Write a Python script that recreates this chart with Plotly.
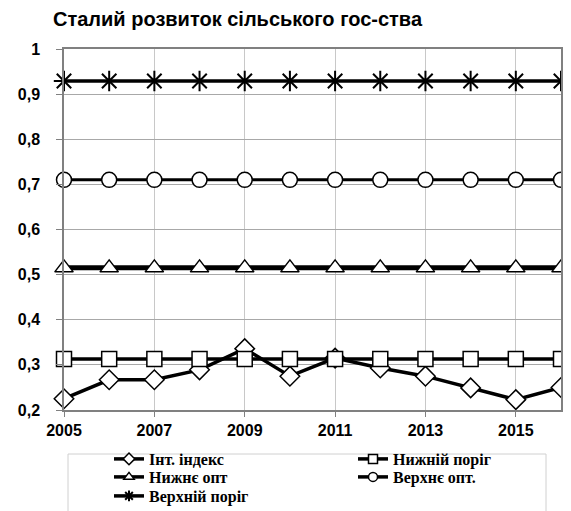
import plotly.graph_objects as go

years = list(range(2005, 2017))
int_index = [0.225, 0.267, 0.267, 0.289, 0.336, 0.275, 0.315, 0.293, 0.275, 0.249, 0.223, 0.250]
lower_threshold = [0.313] * 12
lower_opt = [0.515] * 12
upper_opt = [0.710] * 12
upper_threshold = [0.929] * 12

names = ["Інт. індекс", "Нижній поріг", "Нижнє опт", "Верхнє опт.", "Верхній поріг"]
series = [int_index, lower_threshold, lower_opt, upper_opt, upper_threshold]
symbols = ["diamond", "square", "triangle-up", "circle", "asterisk-open"]
sizes = [15, 15, 16, 15, 17]
lwidths = [3.5, 3.5, 5, 3, 3.5]
legend_ids = ["legend", "legend2", "legend3", "legend4", "legend5"]
# legend entry anchor (pixels): text column x, row centre y
legend_pos = [(148, 460), (392, 460), (148, 478), (392, 478), (148, 497)]

fig = go.Figure()
for nm, ys, sym, sz, lw in zip(names, series, symbols, sizes, lwidths):
    is_star = sym == "asterisk-open"
    fig.add_trace(go.Scatter(
        x=years, y=ys, name=nm, mode="lines+markers", showlegend=False,
        line=dict(color="black", width=lw),
        marker=dict(symbol=sym, size=sz, color="black" if is_star else "white",
                    line=dict(color="black", width=2 if is_star else 1.5)),
        cliponaxis=False,
    ))

for nm, sym, lg in zip(names, symbols, legend_ids):
    is_star = sym == "asterisk-open"
    fig.add_trace(go.Scatter(
        x=[None], y=[None], name=nm, mode="lines+markers", legend=lg,
        line=dict(color="black", width=3.5),
        marker=dict(symbol=sym, size=9,
                    color="black" if is_star else "white",
                    line=dict(color="black", width=2 if is_star else 1.5)),
    ))

def px_x(p):
    return (p - 56) / 497

def px_y(p):
    return (402 - p) / 361

legend_font = dict(family="Liberation Serif, Times New Roman", size=16,
                   color="black", weight="bold")
legend_layouts = {}
for lg, (tx, cy) in zip(legend_ids, legend_pos):
    legend_layouts[lg] = dict(x=px_x(tx - 47), xanchor="left", y=px_y(cy - 26),
                              yanchor="top", bgcolor="rgba(0,0,0,0)", borderwidth=0,
                              font=legend_font, itemwidth=30)

fig.update_layout(
    width=571, height=511,
    margin=dict(l=56, r=18, t=41, b=109, autoexpand=False),
    paper_bgcolor="white", plot_bgcolor="white",
    separators=", ",
    title=dict(text="<b>Сталий розвиток сільського гос-ства</b>",
               x=45/571, xanchor="left", y=1-11/511, yanchor="middle",
               font=dict(family="Liberation Sans, Arial", size=20, color="black")),
    xaxis=dict(range=[2005, 2016], tick0=2005, dtick=2, showgrid=True,
               gridcolor="#c8c8c8", gridwidth=1, zeroline=False,
               showline=True, linecolor="#808080", linewidth=1.5, mirror=True,
               ticks="outside", ticklen=5, tickcolor="#808080", tickangle=0,
               tickfont=dict(family="Liberation Sans, Arial", size=16, color="black"),
               tickformat="d"),
    yaxis=dict(range=[0.2, 1], dtick=0.1, tick0=0.2, showgrid=True,
               gridcolor="#a8a8a8", gridwidth=1, zeroline=False,
               showline=True, linecolor="#808080", linewidth=1.5, mirror=True,
               ticks="outside", ticklen=6, tickcolor="#808080", ticklabelstandoff=13,
               tickfont=dict(family="Liberation Sans, Arial", size=16, color="black")),
    shapes=[dict(type="rect", xref="paper", yref="paper",
                 x0=px_x(60), x1=px_x(538), y0=px_y(511), y1=px_y(446),
                 line=dict(color="#d0d0d0", width=1), fillcolor="rgba(0,0,0,0)")],
    **legend_layouts,
)
fig.update_xaxes(tickprefix="<b>", ticksuffix="</b>")
fig.update_yaxes(tickprefix="<b>", ticksuffix="</b>")

fig.write_html("out.html")
